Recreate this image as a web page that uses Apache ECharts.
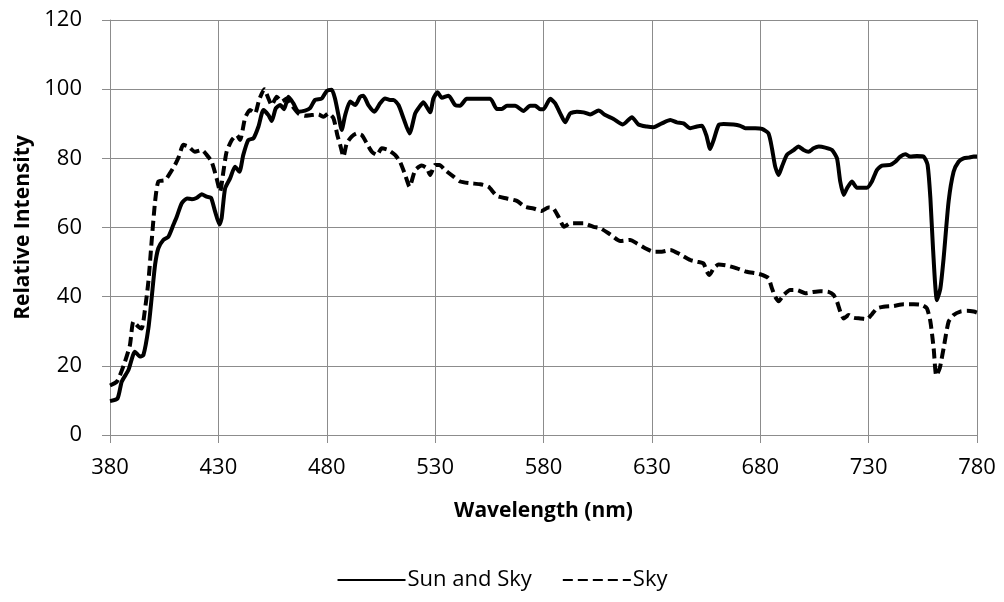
<!DOCTYPE html>
<html>
<head>
<meta charset="utf-8">
<script src="https://cdn.jsdelivr.net/npm/echarts@6/dist/echarts.min.js"></script>
<style>
  html, body { margin: 0; padding: 0; background: #ffffff; }
  #chart { width: 1004px; height: 602px; }
</style>
</head>
<body>
<div id="chart"></div>
<script>
// Spectral irradiance, relative intensity vs wavelength (nm)
const sunSkyNm = [380,383.5,385.4,388.5,391.5,393.8,395.4,397.7,399.2,400.8,402.3,404.6,406.9,409.2,410.8,413.1,415.5,417.8,420.1,422.3,424.6,426.6,428.5,430.5,431.5,433.1,435.4,437.7,439.7,441.5,443.8,446.2,448.5,450.8,453.1,454.6,456.5,458.5,460.3,462.3,464.6,466.9,470,472.3,474.6,477.7,480,482.3,483.8,485.4,486.9,488.5,490.8,493.1,495.4,496.9,499.2,502,504.6,506.9,509.2,510.8,513.1,515.4,518.2,520.8,522.3,524.6,527.7,529.2,531.1,533.1,536.2,539.2,541.5,544.6,555.4,558.5,560.8,563.1,566.9,570.8,573.8,576.2,578.5,580,583.1,585.4,587.7,590,592.3,595.4,598.5,601.5,605.4,608.5,612.3,616.6,620.8,623.8,627.7,630.8,634.6,638.5,641.5,644.6,647.7,650.8,653.1,655.1,656.9,658.5,660.8,663.1,667.7,670.8,673.1,677.7,680.8,683.8,685.4,686.9,688.5,690,692.3,695.4,697.7,700,702.3,704.6,707,710,713.1,715.4,716.9,718.5,720,722.3,724.6,729.2,731.5,733.8,736.2,740,742.3,744.6,746.9,749.2,752.3,755.4,757.2,758.5,759.7,761.5,763.1,764.6,766.9,769.2,771.5,773.8,776.2,778.5,780];
const sunSkyVal = [9.8,10.6,15.4,18.8,24.1,22.7,23.1,30.8,39.5,49.2,54,56.4,57.3,60.7,63.1,67,68.4,68.2,68.6,69.6,68.9,68.6,64.6,60.9,62.7,71.3,74.2,77.6,76.1,81,85.3,85.8,89.2,94,92.5,90.8,94.5,95.4,94.2,97.8,95.9,93.5,93.8,94.5,96.9,97.3,99.5,99.8,97.3,92.5,88.2,92.5,96.4,95.4,97.8,98.1,95.4,93.5,95.9,97.3,96.9,96.9,95.4,91.6,87.2,93,94.5,96.2,93.3,97.3,99.1,97.5,98.1,95.4,95.2,97.2,97.2,94.3,94.3,95.2,95.2,93.7,95.2,95.2,94.2,94.2,97.2,95.9,93,90.4,93,93.5,93.3,92.7,93.8,92.5,91.4,89.8,91.9,89.8,89.2,89,90.1,91.1,90.4,90.1,88.7,89.2,89.4,86.7,82.7,85.3,89.6,89.9,89.8,89.4,88.7,88.7,88.5,87.2,82.9,77.6,75.2,77.6,81,82.4,83.4,82.4,81.9,82.9,83.4,83.1,82.4,80,73.3,69.4,71.3,73.3,71.5,71.5,73.3,76.6,77.9,78.1,79,80.5,81.2,80.5,80.7,80.5,78.1,68.4,54,39,42.4,51.1,67.5,76.1,79,80,80.2,80.5,80.5];

const skyNm = [380,383.1,384.6,386.9,389.2,390.8,393.1,394.6,396.2,397.7,399.2,400.8,402.3,405.4,407.7,410,411.8,413.8,416.2,419.2,422.3,424.6,426.9,429.2,430.8,432.3,433.8,436.2,438.5,440,442.3,444.6,446.9,448.8,451.2,453.1,454.6,456.9,459.2,461.5,463.8,466.9,470,473.1,476.2,478.5,480.8,483.1,484.9,486.2,487.7,489.2,491.5,493.8,496.2,498.5,500.8,503.1,505.4,508.5,511.5,513.8,516.2,518.2,520.8,523.8,526.2,527.7,530,532,534.6,538.5,541.5,546.2,550.8,554.6,558.5,563.1,567.7,571.5,575.4,579.2,582.3,584.6,586.9,589.5,592.3,598.5,603.1,606.2,610.8,615.4,620,623.1,626.9,630.8,634.6,638.5,643.1,647.7,650.8,653.8,655.4,656.6,658.5,660.8,664.6,669.2,673.8,678.5,680.8,683.8,685.4,686.9,688.5,690.8,693.8,696.9,700.8,703.8,707.7,711.5,713.8,715.4,716.9,718.5,720.8,723.1,726.2,729.2,731.5,733.8,736.9,741.5,746.2,750.8,754.6,756.9,758.5,760,761.2,762.8,764.6,766.9,769.2,772.3,775.4,778.5,780];
const skyVal = [14.3,15.4,17.3,21.2,26,32.8,31.3,30.8,36.6,44.3,55.9,67.5,73.3,73.7,75.7,78.1,80.5,83.9,83.4,81.9,82.4,81,79,74.2,70.4,76.1,81.9,85.3,86.7,85.3,91.6,94,93,96.9,100,97.3,95.4,97.8,96.4,97.3,95.4,93,92.3,92.5,92.7,92,93,91.6,86.7,83.9,80.5,84.3,86.3,87.2,86.7,84.3,81.9,81,82.9,82.4,81,79,75.2,71.8,76.6,77.9,77.1,75.2,78.1,78.1,76.6,74.7,73.3,72.8,72.5,71.8,69.1,68.4,67.7,66,65.5,64.8,65.8,65.5,63.1,60.2,61.2,61.2,60.2,59.8,58,56.1,56.4,55.4,54,53,53,53.5,52.2,50.6,50.1,49.6,47.2,46.3,48.2,49.3,49,48.2,47.2,46.7,46.3,45.3,42.4,40,38.7,40.5,41.9,41.9,41,41.3,41.6,41.4,40.5,38.6,35.7,33.7,34.7,33.9,33.7,33.5,34.9,36.6,37.1,37.3,37.8,37.8,37.6,36.6,32.8,25.1,17.2,19.3,25.1,32.8,34.7,35.7,35.9,35.7,35.4];

const seriesNames = ['Sun and Sky', 'Sky'];
const xTitle = 'Wavelength (nm)';
const yTitle = 'Relative Intensity';

function pairs(xs, ys) { return xs.map((x, i) => [x, ys[i]]); }

const FONT = 'Open Sans';
const GRID_COLOR = '#8c8c8c';
const LABEL_SIZE = 22;
const TITLE_SIZE = 21;

const chart = echarts.init(document.getElementById('chart'), null, { renderer: 'canvas' });
chart.setOption({
  animation: false,
  backgroundColor: '#ffffff',
  textStyle: { fontFamily: FONT, color: '#000' },
  grid: { left: 110, right: 27, top: 20, bottom: 167, containLabel: false },
  xAxis: {
    type: 'value', min: 380, max: 780, interval: 50,
    name: xTitle, nameLocation: 'middle', nameGap: 66,
    nameTextStyle: { fontFamily: FONT, fontWeight: 'bold', fontSize: TITLE_SIZE, color: '#000' },
    axisLine: { show: true, onZero: false, lineStyle: { color: GRID_COLOR, width: 1 } },
    axisTick: { show: true, length: 8, lineStyle: { color: GRID_COLOR } },
    axisLabel: { fontFamily: FONT, fontSize: LABEL_SIZE, color: '#000', margin: 22 },
    splitLine: { show: true, lineStyle: { color: GRID_COLOR, width: 1 } }
  },
  yAxis: {
    type: 'value', min: 0, max: 120, interval: 20,
    name: yTitle, nameLocation: 'middle', nameGap: 74, nameRotate: 90,
    nameTextStyle: { fontFamily: FONT, fontWeight: 'bold', fontSize: TITLE_SIZE, color: '#000' },
    axisLine: { show: true, lineStyle: { color: GRID_COLOR, width: 1 } },
    axisTick: { show: true, length: 8, lineStyle: { color: GRID_COLOR } },
    axisLabel: { fontFamily: FONT, fontSize: LABEL_SIZE, color: '#000', margin: 28 },
    splitLine: { show: true, lineStyle: { color: GRID_COLOR, width: 1 } }
  },
  legend: {
    data: seriesNames,
    left: 'center', top: 564,
    itemWidth: 68, itemHeight: 14, itemGap: 30,
    itemStyle: { opacity: 0 },
    textStyle: { fontFamily: FONT, fontSize: LABEL_SIZE, color: '#000', padding: [0, 0, 0, -3] }
  },
  series: [
    {
      name: seriesNames[0], type: 'line', data: pairs(sunSkyNm, sunSkyVal),
      symbol: 'none', smooth: 0.2,
      lineStyle: { color: '#000', width: 4, type: 'solid', join: 'round' },
      itemStyle: { color: '#000' }
    },
    {
      name: seriesNames[1], type: 'line', data: pairs(skyNm, skyVal),
      symbol: 'none', smooth: 0.2,
      lineStyle: { color: '#000', width: 4, type: [10, 5], join: 'round' },
      itemStyle: { color: '#000' }
    }
  ]
});
</script>
</body>
</html>
